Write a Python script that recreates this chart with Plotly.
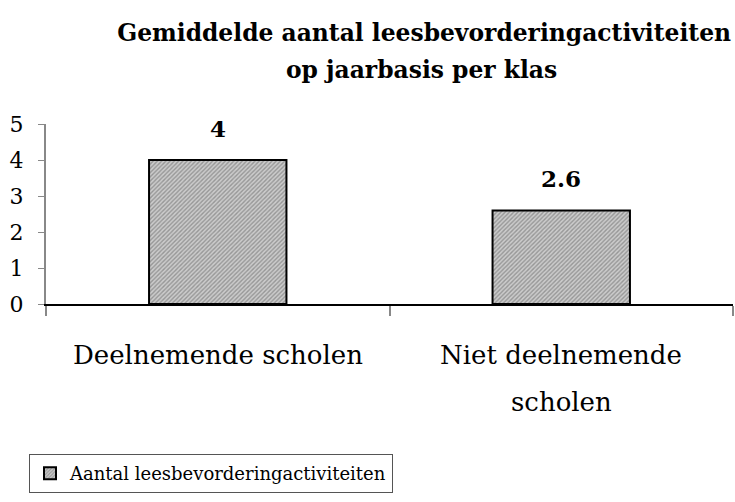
import plotly.graph_objects as go

categories = ["Deelnemende scholen", "Niet deelnemende<br>scholen"]
values = [4, 2.6]
value_labels = ["4", "2.6"]
series_name = "Aantal leesbevorderingactiviteiten"
title_lines = ["Gemiddelde aantal leesbevorderingactiviteiten", "op jaarbasis per klas"]
y_ticks = [0, 1, 2, 3, 4, 5]

FONT = "DejaVu Serif"

fig = go.Figure()
fig.add_trace(go.Bar(
    x=categories, y=values, name=series_name,
    width=0.40,
    marker=dict(
        color="#bdbdbd",
        line=dict(color="black", width=2),
        pattern=dict(shape="/", fgcolor="#606060", bgcolor="#cccccc", size=3, solidity=0.45),
    ),
    showlegend=True,
))

annotations = []
# value labels above bars
for cat, val, lab in zip(categories, values, value_labels):
    annotations.append(dict(
        x=cat, y=val, xref="x", yref="y", text=lab, showarrow=False,
        yanchor="bottom", yshift=16,
        font=dict(family=FONT, size=23, color="black", weight="bold"),
    ))
# category labels (multi-line with wide spacing)
for cat in categories:
    for i, line in enumerate(cat.split("<br>")):
        annotations.append(dict(
            x=cat, y=0, xref="x", yref="y", text=line, showarrow=False,
            yanchor="middle", yshift=-51 - 47 * i,
            font=dict(family=FONT, size=26, color="black"),
        ))
# second title line
annotations.append(dict(
    x=0.547, y=1.3, xref="paper", yref="paper",
    text=title_lines[1], showarrow=False, xanchor="center", yanchor="middle",
    font=dict(family=FONT, size=23.4, color="black", weight="bold"),
))

fig.update_layout(
    width=735, height=502,
    margin=dict(l=46, r=2, t=124, b=198, autoexpand=False),
    paper_bgcolor="white", plot_bgcolor="white",
    font=dict(family=FONT, size=22, color="black"),
    title=dict(
        text=title_lines[0],
        x=0.577, xanchor="center", xref="container",
        y=1 - 33 / 502, yanchor="middle", yref="container",
        font=dict(family=FONT, size=23.4, color="black", weight="bold"),
    ),
    annotations=annotations,
    showlegend=True,
    legend=dict(
        x=29 / 735, xanchor="left", xref="container",
        y=1 - 454 / 502, yanchor="top", yref="container",
        bordercolor="#555555", borderwidth=1,
        font=dict(family=FONT, size=18, color="black"),
        itemwidth=30,
    ),
)
fig.update_xaxes(
    showline=True, linecolor="black", linewidth=2,
    ticks="outside", tickson="boundaries", ticklen=10, tickcolor="#888888", tickwidth=2,
    showticklabels=False,
    showgrid=False, zeroline=False,
)
fig.update_yaxes(
    range=[0, 5], tickvals=y_ticks,
    showline=True, linecolor="#888888", linewidth=2,
    ticks="outside", ticklen=6, tickcolor="#888888", tickwidth=1,
    ticklabelstandoff=10,
    tickfont=dict(family=FONT, size=22, color="black"),
    showgrid=False, zeroline=False,
)

fig.write_html(
    "out.html",
    config={"displayModeBar": False},
    post_script="document.body.style.margin='0';document.body.style.overflow='hidden';",
)
